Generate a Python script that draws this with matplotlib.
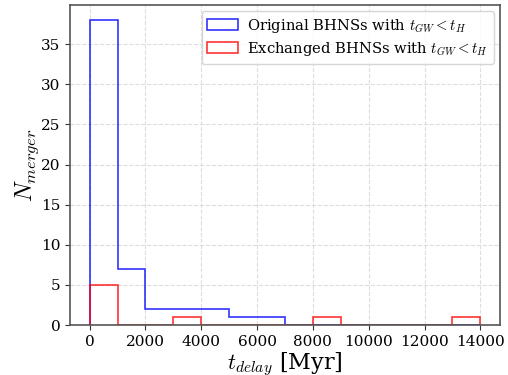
import numpy as np
import matplotlib
matplotlib.use("Agg")
import matplotlib.pyplot as plt

plt.rcParams['font.family'] = ['DejaVu Serif']
plt.rcParams['mathtext.fontset'] = 'cm'

bin_edges = [0, 1000, 2000, 3000, 4000, 5000, 6000, 7000, 8000, 9000, 10000, 11000, 12000, 13000, 14000]
original_counts = [38, 7, 2, 2, 2, 1, 1, 0, 0, 0, 0, 0, 0, 0]
exchanged_counts = [5, 0, 0, 1, 0, 0, 0, 0, 1, 0, 0, 0, 0, 1]
labels = [r"Original BHNSs with $t_{GW}<t_H$", r"Exchanged BHNSs with $t_{GW}<t_H$"]

fig = plt.figure(figsize=(5.08, 3.75), dpi=100)
ax = fig.add_axes([0.138, 0.133, 0.846, 0.854])

centers = np.array(bin_edges[:-1]) + 500
ax.hist(centers, bins=bin_edges, weights=original_counts, histtype='step', color='blue', alpha=0.8, lw=1.2, label=labels[0])
ax.hist(centers, bins=bin_edges, weights=exchanged_counts, histtype='step', color='red', alpha=0.8, lw=1.2, label=labels[1])

ax.grid(True, ls='--', color='#dddddd', lw=0.8)
ax.set_axisbelow(True)
for s in ax.spines.values():
    s.set_color('#555555')
    s.set_linewidth(1.2)
ax.tick_params(labelsize=11, color='#333333')
ax.set_xticks([0, 2000, 4000, 6000, 8000, 10000, 12000, 14000])
ax.set_yticks([0, 5, 10, 15, 20, 25, 30, 35])
ax.set_xlabel(r"$t_{delay}$ [Myr]", fontsize=16, labelpad=1)
ax.set_ylabel(r"$N_{merger}$", fontsize=17, labelpad=0)
ax.legend(loc='upper right', fontsize=10.6, framealpha=0.8, borderaxespad=0.4, handlelength=2.1,
          handletextpad=0.6, labelspacing=0.35)

fig.savefig("out.png", dpi=100)
